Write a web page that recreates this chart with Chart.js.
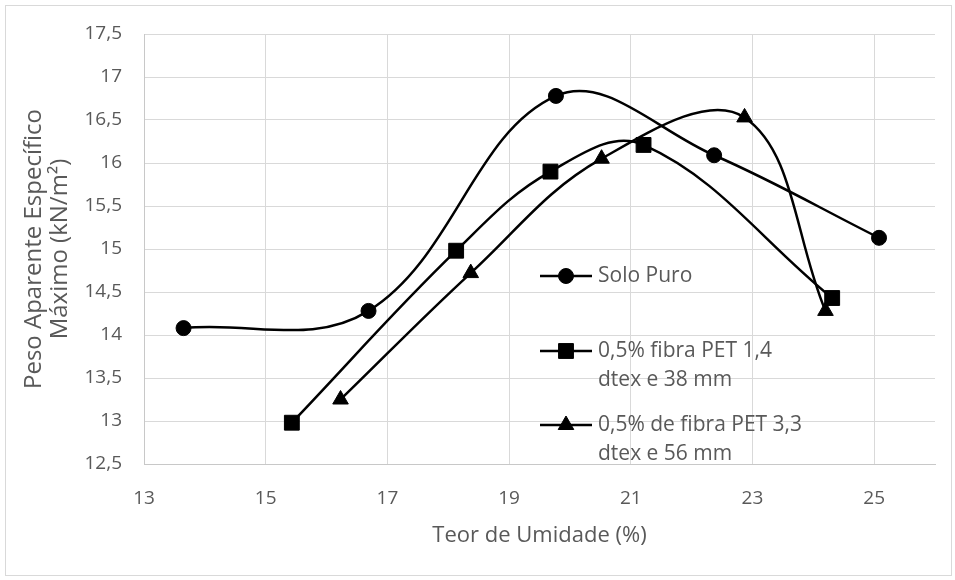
<!DOCTYPE html>
<html lang="pt">
<head>
<meta charset="utf-8">
<title>Peso aparente específico máximo x teor de umidade</title>
<script src="https://cdn.jsdelivr.net/npm/chart.js@4.4.1/dist/chart.umd.min.js"></script>
<style>
  html, body { margin: 0; padding: 0; background: #fff; }
  .Frame { position: absolute; left: 5px; top: 5px; width: 945px; height: 569px; border: 1px solid #d9d9d9; }
  .ChartBox { position: absolute; left: 0; top: 0; width: 955px; height: 580px; }
</style>
</head>
<body>
<div class="Frame"></div>
<div class="ChartBox"><canvas id="CompactionChart"></canvas></div>
<script>
// valores
const soloPuroX = [13.65, 16.69, 19.77, 22.37, 25.08];
const soloPuroY = [14.08, 14.28, 16.78, 16.09, 15.13];

const pet14X = [15.43, 18.13, 19.68, 21.21, 24.31];
const pet14Y = [12.98, 14.98, 15.90, 16.21, 14.43];

const pet33X = [16.23, 18.37, 20.52, 22.87, 24.20];
const pet33Y = [13.25, 14.72, 16.05, 16.53, 14.28];

const seriesLabels = [
  ["Solo Puro"],
  ["0,5% fibra PET 1,4", "dtex e 38 mm"],
  ["0,5% de fibra PET 3,3", "dtex e 56 mm"],
];
const seriesMarkers = ["circle", "rect", "triangle"];
const markerSizes = [7.5, 10.5, 9];

const xTicks = [13, 15, 17, 19, 21, 23, 25];
const yTicks = [12.5, 13, 13.5, 14, 14.5, 15, 15.5, 16, 16.5, 17, 17.5];

const FONT = "'Open Sans', 'Noto Sans', sans-serif";
const TEXT_COLOR = "#595959";
const GRID_COLOR = "#d9d9d9";

function toPoints(xs, ys) {
  return xs.map((x, i) => ({ x, y: ys[i] }));
}

function formatDecimal(value) {
  return String(value).replace(".", ",");
}

function makeDataset(index, xs, ys) {
  return {
    label: seriesLabels[index].join(" "),
    data: toPoints(xs, ys),
    borderColor: "#000",
    backgroundColor: "#000",
    borderWidth: 2.5,
    tension: 0.38,
    pointStyle: seriesMarkers[index],
    pointRadius: markerSizes[index],
    pointBorderWidth: 1,
    pointBackgroundColor: "#000",
    pointBorderColor: "#000",
  };
}

// legenda desenhada dentro da área do gráfico, com rótulos em duas linhas
const insideLegend = {
  id: "insideLegend",
  afterDraw(chart) {
    const { ctx, chartArea } = chart;
    const lineStart = chartArea.left + 396;
    const lineEnd = lineStart + 52;
    const textStart = lineEnd + 6;
    const rowOffsets = [242, 317, 391];
    const lineGap = 29;

    ctx.save();
    ctx.font = `21px ${FONT}`;
    ctx.textBaseline = "middle";
    ctx.textAlign = "left";

    seriesLabels.forEach((lines, i) => {
      const y = chartArea.top + rowOffsets[i];

      ctx.strokeStyle = "#000";
      ctx.lineWidth = 2.5;
      ctx.beginPath();
      ctx.moveTo(lineStart, y);
      ctx.lineTo(lineEnd, y);
      ctx.stroke();

      ctx.fillStyle = "#000";
      ctx.lineWidth = 1;
      Chart.helpers.drawPoint(ctx, {
        pointStyle: seriesMarkers[i],
        radius: markerSizes[i],
        borderWidth: 1,
        rotation: 0,
      }, (lineStart + lineEnd) / 2, y);

      ctx.fillStyle = TEXT_COLOR;
      lines.forEach((text, j) => {
        ctx.fillText(text, textStart, y + j * lineGap);
      });
    });

    ctx.restore();
  },
};

new Chart(document.querySelector("#CompactionChart"), {
  type: "line",
  data: {
    datasets: [
      makeDataset(0, soloPuroX, soloPuroY),
      makeDataset(1, pet14X, pet14Y),
      makeDataset(2, pet33X, pet33Y),
    ],
  },
  options: {
    responsive: true,
    maintainAspectRatio: false,
    animation: false,
    layout: {
      padding: { top: 34, right: 20, left: 0, bottom: 0 },
    },
    plugins: {
      legend: { display: false },
      tooltip: { enabled: false },
    },
    scales: {
      x: {
        type: "linear",
        min: 13,
        max: 26,
        afterBuildTicks(axis) {
          axis.ticks = xTicks.map((value) => ({ value }));
        },
        afterFit(axis) {
          axis.height = 116;
        },
        grid: { color: GRID_COLOR, drawTicks: false },
        border: { color: "#c8c8c8" },
        ticks: {
          padding: 23,
          color: TEXT_COLOR,
          font: { family: FONT, size: 19 },
          maxRotation: 0,
          callback: (value) => formatDecimal(value),
        },
        title: {
          display: true,
          text: "Teor de Umidade (%)",
          color: TEXT_COLOR,
          font: { family: FONT, size: 22, lineHeight: 1.2 },
          padding: { top: 0, bottom: 31 },
        },
      },
      y: {
        min: 12.5,
        max: 17.5,
        afterBuildTicks(axis) {
          axis.ticks = yTicks.map((value) => ({ value }));
        },
        afterFit(axis) {
          axis.width = 144;
        },
        grid: { color: GRID_COLOR, drawTicks: false },
        border: { color: "#c8c8c8" },
        ticks: {
          padding: 22,
          color: TEXT_COLOR,
          font: { family: FONT, size: 19 },
          callback: (value) => formatDecimal(value),
        },
        title: {
          display: true,
          text: ["Peso Aparente Específico", "Máximo (kN/m²)"],
          color: TEXT_COLOR,
          font: { family: FONT, size: 24, lineHeight: 1.05 },
          padding: { top: 22, bottom: 0 },
        },
      },
    },
  },
  plugins: [insideLegend],
});
</script>
</body>
</html>
